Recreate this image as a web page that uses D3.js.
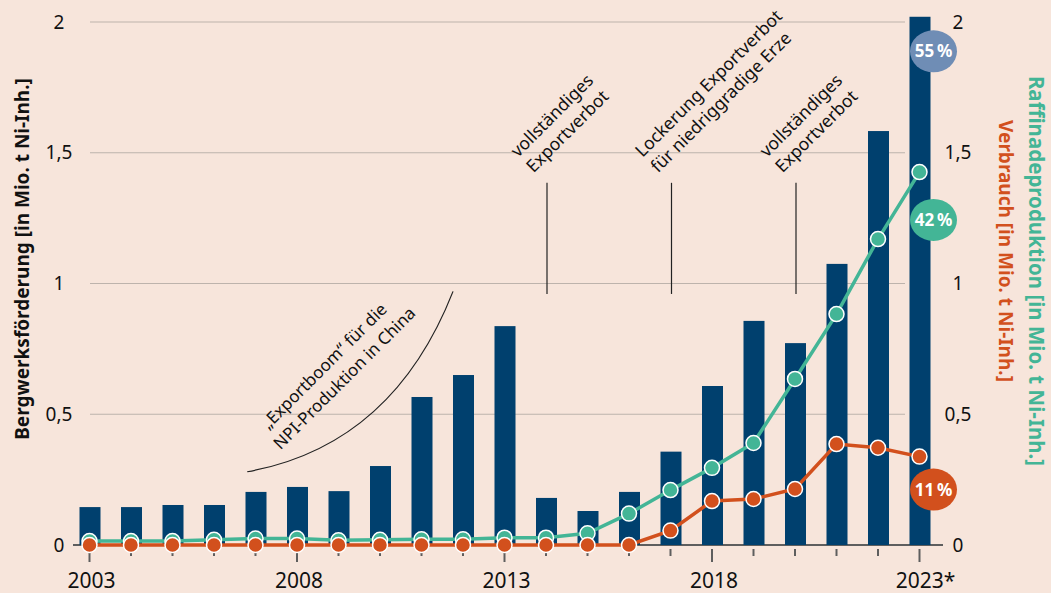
<!DOCTYPE html>
<html>
<head>
<meta charset="utf-8">
<script src="https://cdn.jsdelivr.net/npm/d3@7"></script>
<style>
  body { margin: 0; background: #f7e5db; }
  text { font-family: 'Noto Sans', sans-serif; }
</style>
</head>
<body>
<div id="chart"></div>
<script>
// data (Mio. t Ni-Inhalt)
const years = [2003, 2004, 2005, 2006, 2007, 2008, 2009, 2010, 2011, 2012, 2013,
  2014, 2015, 2016, 2017, 2018, 2019, 2020, 2021, 2022, 2023]
const mining = [0.145, 0.145, 0.153, 0.153, 0.203, 0.222, 0.206, 0.302, 0.566, 0.65, 0.837,
  0.18, 0.13, 0.203, 0.357, 0.608, 0.857, 0.772, 1.075, 1.583, 2.02]
const refining = [0.015, 0.015, 0.015, 0.02, 0.025, 0.025, 0.018, 0.02, 0.022, 0.022, 0.028,
  0.028, 0.045, 0.12, 0.21, 0.295, 0.39, 0.635, 0.883, 1.17, 1.426]
const consumption = [0, 0, 0, 0, 0, 0, 0, 0, 0, 0, 0,
  0, 0, 0, 0.055, 0.168, 0.176, 0.214, 0.386, 0.372, 0.338]

const yTicks = [0, 0.5, 1, 1.5, 2]
const yTickLabels = ['0', '0,5', '1', '1,5', '2']
const xMajor = [2003, 2008, 2013, 2018, 2023]
const xMajorLabels = ['2003', '2008', '2013', '2018', '2023*']

const shareLabels = ['55\u2009%', '42\u2009%', '11\u2009%']
const shareColors = ['#6f8db5', '#43b596', '#d2501d']
const shareAt = [1.888, 1.243, 0.212]

const banYears = [2014, 2017, 2020]
const banTexts = [
  ['vollständiges', 'Exportverbot'],
  ['Lockerung Exportverbot', 'für niedriggradige Erze'],
  ['vollständiges', 'Exportverbot']
]

const colors = { bar: '#00406e', green: '#43b596', orange: '#d2501d', grid: '#bdb3ac', axis: '#5e5e5e' }

const width = 1051
const height = 593

const svg = d3
  .select('#chart')
  .append('svg')
  .attr('width', width)
  .attr('height', height)

svg.append('rect').attr('width', width).attr('height', height).attr('fill', '#f7e5db')

const x = d3.scaleLinear().domain([2003, 2023]).range([89.5, 919.5])
const y = d3.scaleLinear().domain([0, 2]).range([545, 22])
const barW = 21

// grid
svg
  .selectAll('.grid')
  .data(yTicks.filter(d => d > 0))
  .enter()
  .append('line')
  .attr('x1', 90)
  .attr('x2', 905)
  .attr('y1', d => y(d))
  .attr('y2', d => y(d))
  .attr('stroke', colors.grid)
  .attr('stroke-width', 1.2)

// y labels left + right
yTicks.forEach((d, i) => {
  svg.append('text')
    .attr('x', 59).attr('y', y(d)).attr('dy', '0.35em')
    .attr('text-anchor', 'middle').style('font-size', '19px').attr('fill', '#111')
    .text(yTickLabels[i])
  svg.append('text')
    .attr('x', 958).attr('y', y(d)).attr('dy', '0.35em')
    .attr('text-anchor', 'middle').style('font-size', '19px').attr('fill', '#111')
    .text(yTickLabels[i])
})

// baseline + x ticks
svg.append('line')
  .attr('x1', 73).attr('x2', 943)
  .attr('y1', y(0)).attr('y2', y(0))
  .attr('stroke', colors.axis).attr('stroke-width', 2)

svg
  .selectAll('.xtick')
  .data(years)
  .enter()
  .append('line')
  .attr('x1', d => x(d))
  .attr('x2', d => x(d))
  .attr('y1', 549)
  .attr('y2', d => (xMajor.includes(d) ? 562 : 556))
  .attr('stroke', colors.axis)
  .attr('stroke-width', 2)

svg
  .selectAll('.xlabel')
  .data(xMajor)
  .enter()
  .append('text')
  .attr('x', (d, i) => x(d) + (i === 4 ? 6 : 2))
  .attr('y', 588)
  .attr('text-anchor', 'middle')
  .style('font-size', '21px')
  .attr('fill', '#111')
  .text((d, i) => xMajorLabels[i])

// bars
svg
  .selectAll('.bar')
  .data(years)
  .enter()
  .append('rect')
  .attr('x', d => x(d) - barW / 2 + 0.5)
  .attr('width', barW)
  .attr('y', (d, i) => y(mining[i]))
  .attr('height', (d, i) => y(0) - y(mining[i]))
  .attr('fill', colors.bar)

// annotations
const ann = svg.append('g').attr('fill', '#111').style('font-size', '17.5px')

ann.append('path')
  .attr('d', `M${x(2006.8)},${y(0.28)} Q${x(2010.3)},${y(0.38)} ${x(2011.76)},${y(0.97)}`)
  .attr('fill', 'none').attr('stroke', '#222').attr('stroke-width', 1.2)

const boom = ann.append('g')
  .style('font-size', '17px')
  .attr('transform', `translate(${x(2007) + 13},${y(0.44)}) rotate(-45)`)
boom.append('text').attr('x', 0).attr('y', 0).text('\u201EExportboom\u201C für die')
boom.append('text').attr('x', -6).attr('y', 23).text('NPI-Produktion in China')

banYears.forEach((yr, i) => {
  ann.append('line')
    .attr('x1', x(yr) + 1).attr('x2', x(yr) + 1)
    .attr('y1', y(1.385)).attr('y2', y(0.96))
    .attr('stroke', '#222').attr('stroke-width', 1.2)
  const g = ann.append('g')
    .attr('transform', `translate(${x(yr) - 28},${y(1.48)}) rotate(-45)`)
  banTexts[i].forEach((t, j) => {
    g.append('text').attr('x', 0).attr('y', j * 22).text(t)
  })
})

// lines
function drawSeries(values, color) {
  const pts = years.map((d, i) => ({ year: d, v: values[i] }))
  const line = d3.line().x(d => x(d.year)).y(d => y(d.v))
  svg.append('path')
    .datum(pts)
    .attr('d', line)
    .attr('fill', 'none')
    .attr('stroke', color)
    .attr('stroke-width', 3.5)
  svg.selectAll(null)
    .data(pts)
    .enter()
    .append('circle')
    .attr('cx', d => x(d.year))
    .attr('cy', d => y(d.v))
    .attr('r', 7.5)
    .attr('fill', color)
    .attr('stroke', '#fff')
    .attr('stroke-width', 1.5)
}
drawSeries(refining, colors.green)
drawSeries(consumption, colors.orange)

// share badges
shareLabels.forEach((t, i) => {
  const cx = x(2023) + 14
  svg.append('ellipse')
    .attr('cx', cx).attr('cy', y(shareAt[i]))
    .attr('rx', 23.5).attr('ry', 21)
    .attr('fill', shareColors[i])
  svg.append('text')
    .attr('x', cx).attr('y', y(shareAt[i])).attr('dy', '0.36em')
    .attr('text-anchor', 'middle')
    .style('font-size', '17px').style('font-weight', 700)
    .attr('fill', '#fff')
    .text(t)
})

// axis titles
svg.append('text')
  .attr('transform', `translate(22,259) rotate(-90)`)
  .attr('dy', '0.35em')
  .attr('text-anchor', 'middle')
  .style('font-size', '19px').style('font-weight', 700)
  .attr('fill', '#111')
  .text('Bergwerksförderung [in Mio. t Ni-Inh.]')

svg.append('text')
  .attr('transform', `translate(1036,271) rotate(90)`)
  .attr('dy', '0.35em')
  .attr('text-anchor', 'middle')
  .style('font-size', '20.5px').style('font-weight', 700)
  .attr('fill', colors.green)
  .text('Raffinadeproduktion [in Mio. t Ni-Inh.]')

svg.append('text')
  .attr('transform', `translate(1006,251) rotate(90)`)
  .attr('dy', '0.35em')
  .attr('text-anchor', 'middle')
  .style('font-size', '19px').style('font-weight', 700)
  .attr('fill', colors.orange)
  .text('Verbrauch [in Mio. t Ni-Inh.]')
</script>
</body>
</html>
